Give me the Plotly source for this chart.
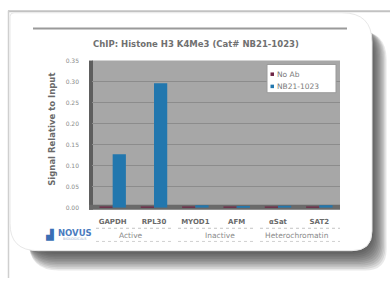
import plotly.graph_objects as go

categories = ["GAPDH", "RPL30", "MYOD1", "AFM", "αSat", "SAT2"]
no_ab = [0.003, 0.003, 0.003, 0.003, 0.003, 0.003]
nb21 = [0.127, 0.296, 0.006, 0.004, 0.005, 0.006]
groups = ["Active", "Inactive", "Heterochromatin"]
y_ticks = [0.00, 0.05, 0.10, 0.15, 0.20, 0.25, 0.30, 0.35]
series_names = ["No Ab", "NB21-1023"]
series_colors = ["#6e2445", "#2277ae"]

W, H = 390, 281
def px(x): return x / W
def py(y): return 1 - y / H

X0, X1, Y0, Y1 = 92, 340, 58, 209

fig = go.Figure()
fig.add_trace(go.Bar(name=series_names[0], x=categories, y=no_ab,
                     marker_color=series_colors[0], marker_line_width=0))
fig.add_trace(go.Bar(name=series_names[1], x=categories, y=nb21,
                     marker_color=series_colors[1], marker_line_width=0))

def rrect(x0, y0, x1, y1, tl, tr, br, bl):
    return (f"M {px(x0+tl)},{py(y0)} L {px(x1-tr)},{py(y0)} "
            f"Q {px(x1)},{py(y0)} {px(x1)},{py(y0+tr)} "
            f"L {px(x1)},{py(y1-br)} Q {px(x1)},{py(y1)} {px(x1-br)},{py(y1)} "
            f"L {px(x0+bl)},{py(y1)} Q {px(x0)},{py(y1)} {px(x0)},{py(y1-bl)} "
            f"L {px(x0)},{py(y0+tl)} Q {px(x0)},{py(y0)} {px(x0+tl)},{py(y0)} Z")

shapes = []
shapes.append(dict(type="line", xref="paper", yref="paper", x0=px(8), x1=px(390),
                   y0=py(7.5), y1=py(7.5), line=dict(color="#c2c2c2", width=2), layer="below"))
shapes.append(dict(type="line", xref="paper", yref="paper", x0=px(8.5), x1=px(8.5),
                   y0=py(7), y1=py(281), line=dict(color="#cfcfcf", width=1.5), layer="below"))
# soft shadow
for k in range(12, 0, -1):
    shapes.append(dict(type="path", xref="paper", yref="paper",
                       path=rrect(24 + k * 0.4, 20 + k * 0.6, 371 + k * 1.3, 253 + k * 1.7,
                                  4, 30, 22, 30),
                       fillcolor="rgba(40,40,40,0.1)", line=dict(width=0), layer="below"))
# card
shapes.append(dict(type="path", xref="paper", yref="paper",
                   path=rrect(10, 9, 372, 253, 4, 30, 20, 28),
                   fillcolor="#ffffff", line=dict(color="#e8e8e8", width=1), layer="below"))
shapes.append(dict(type="line", xref="paper", yref="paper", x0=px(33), x1=px(347),
                   y0=py(25), y1=py(25), line=dict(color="#9a9a9a", width=2), layer="below"))
shapes.append(dict(type="rect", xref="paper", yref="paper", x0=px(X0), x1=px(X1),
                   y0=py(Y1), y1=py(Y0), fillcolor="#a7a7a7", line=dict(width=0), layer="below"))
shapes.append(dict(type="rect", xref="paper", yref="paper", x0=px(X0 - 3), x1=px(X0 + 1),
                   y0=py(Y1 + 2), y1=py(Y0), fillcolor="#5e5e5e", line=dict(width=0), layer="below"))
shapes.append(dict(type="rect", xref="paper", yref="paper", x0=px(X0 - 3), x1=px(X1),
                   y0=py(Y1 + 2), y1=py(Y1 - 3), fillcolor="#6a6a6a", line=dict(width=0), layer="below"))
for (a, b) in [(96, 172), (178, 256), (260, 340)]:
    shapes.append(dict(type="line", xref="paper", yref="paper", x0=px(a), x1=px(b),
                       y0=py(230), y1=py(230), line=dict(color="#c4c4c4", width=1, dash="dot")))
    shapes.append(dict(type="line", xref="paper", yref="paper", x0=px(a), x1=px(b),
                       y0=py(243.5), y1=py(243.5), line=dict(color="#d0d0d0", width=1, dash="dot")))

LX0, LY0, LX1, LY1 = 267, 62, 336, 91
shapes.append(dict(type="rect", xref="paper", yref="paper", x0=px(LX0), x1=px(LX1),
                   y0=py(LY1), y1=py(LY0), fillcolor="#ffffff",
                   line=dict(color="#9a9a9a", width=1)))

def ann(text, x, y, size, color, xanchor="center", angle=0, weight="normal"):
    return dict(text=text, x=px(x), y=py(y), xref="paper", yref="paper",
                xanchor=xanchor, yanchor="middle", showarrow=False, textangle=angle,
                font=dict(size=size, color=color, family="DejaVu Sans", weight=weight))

annotations = []
for i, (nm, col) in enumerate(zip(series_names, series_colors)):
    yc = 72 + i * 12.5
    shapes.append(dict(type="rect", xref="paper", yref="paper", x0=px(270.5), x1=px(274),
                       y0=py(yc + 1.8), y1=py(yc - 1.8), fillcolor=col, line=dict(width=0)))
    annotations.append(ann(nm, 275, yc, 7.5, "#7a7a7a", xanchor="left"))

annotations.append(ann("ChIP: Histone H3 K4Me3 (Cat# NB21-1023)", 196, 41, 8.5, "#707070", weight="bold"))
annotations.append(ann("Signal Relative to Input", 52, 129, 8.5, "#6a6a6a", angle=-90, weight="bold"))
for g, xc in zip(groups, [131, 220, 297]):
    annotations.append(ann(g, xc, 237, 7.5, "#8a8a8a"))
annotations.append(ann("<i>▟</i>", 49, 236, 10, "#3a6fb5", weight="bold"))
annotations.append(ann("NOVUS", 75, 235, 8.5, "#4a7cc0", weight="bold"))
annotations.append(ann("BIOLOGICALS", 75, 241.5, 3.5, "#9ab0d0"))

fig.update_layout(
    width=W, height=H, margin=dict(l=0, r=0, t=0, b=0),
    paper_bgcolor="#ffffff", plot_bgcolor="rgba(0,0,0,0)",
    barmode="group", bargap=0.36, bargroupgap=0,
    showlegend=False,
    xaxis=dict(domain=[px(X0), px(X1)], showgrid=False, zeroline=False,
               tickfont=dict(size=7, color="#6a6a6a", family="DejaVu Sans", weight="bold"),
               ticks="", showline=False, ticklabelstandoff=8),
    yaxis=dict(domain=[py(Y1), py(Y0)], range=[0, 0.35], tickvals=y_ticks,
               tickformat=".2f", showgrid=True, gridcolor="#8c8c8c", gridwidth=1,
               zeroline=False, ticks="", showline=False, ticklabelstandoff=12,
               tickfont=dict(size=6, color="#8a8a8a", family="DejaVu Sans")),
    shapes=shapes, annotations=annotations,
)

fig.write_html("out.html", config={"displayModeBar": False},
               post_script="document.body.style.margin='0';document.body.style.overflow='hidden';")
